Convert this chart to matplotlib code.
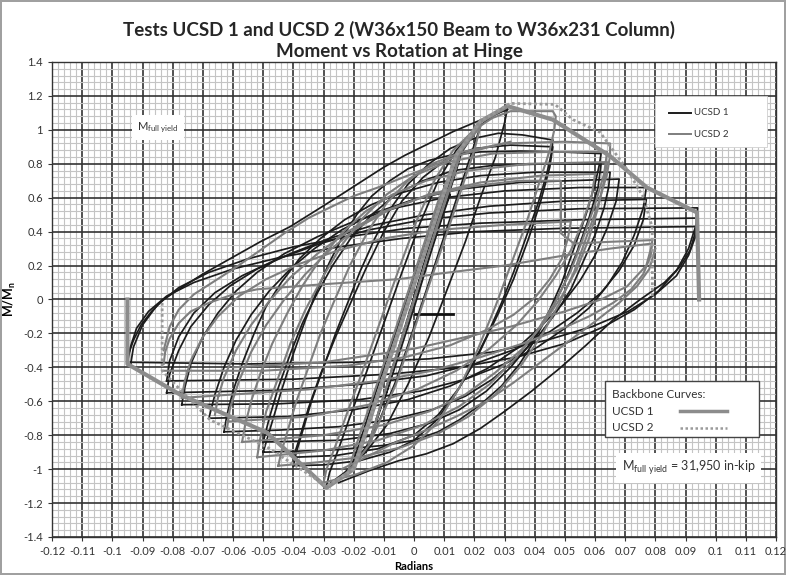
import matplotlib
matplotlib.use("Agg")
import matplotlib.pyplot as plt
from matplotlib.patches import Rectangle
from matplotlib.ticker import MultipleLocator

# ---------------- data: moment ratio (M/Mn) vs hinge rotation (rad) ----------------
# UCSD 1 hysteresis cycles
ucsd1_c01 = [(-0.010, -0.60), (-0.006, -0.38), (0.000, -0.05), (0.006, 0.30), (0.010, 0.52),
             (0.012, 0.62), (0.010, 0.55), (0.004, 0.25), (-0.002, -0.12), (-0.008, -0.48), (-0.010, -0.60)]
ucsd1_c02 = [(-0.016, -0.90), (-0.012, -0.68), (-0.004, -0.22), (0.004, 0.25), (0.010, 0.60),
             (0.014, 0.80), (0.016, 0.88), (0.014, 0.76), (0.008, 0.42), (0.000, -0.02),
             (-0.008, -0.48), (-0.014, -0.80), (-0.016, -0.90)]
ucsd1_c03 = [(-0.021, -1.00), (-0.018, -0.84), (-0.010, -0.40), (0.000, 0.12), (0.008, 0.55),
             (0.014, 0.82), (0.020, 0.98), (0.022, 1.02), (0.019, 0.86), (0.012, 0.48),
             (0.004, 0.05), (-0.006, -0.48), (-0.014, -0.82), (-0.021, -1.00)]
ucsd1_c04 = [(-0.029, -1.10), (-0.028, -1.02), (-0.025, -0.88), (-0.021, -0.68), (-0.016, -0.44),
             (-0.010, -0.14), (-0.004, 0.16), (0.002, 0.45), (0.008, 0.70), (0.014, 0.88),
             (0.020, 1.00), (0.026, 1.08), (0.031, 1.13), (0.030, 1.04), (0.027, 0.84),
             (0.022, 0.60), (0.017, 0.34), (0.011, 0.06), (0.005, -0.22), (-0.002, -0.50),
             (-0.009, -0.74), (-0.016, -0.90), (-0.023, -1.02), (-0.029, -1.10)]
ucsd1_c05 = [(-0.040, -0.98), (-0.039, -0.90), (-0.037, -0.78), (-0.034, -0.60), (-0.030, -0.40),
             (-0.026, -0.20), (-0.022, -0.02), (-0.018, 0.16), (-0.013, 0.36), (-0.008, 0.53),
             (-0.002, 0.68), (0.005, 0.80), (0.012, 0.89), (0.020, 0.95), (0.028, 0.98),
             (0.036, 0.97), (0.046, 0.94), (0.0455, 0.86), (0.044, 0.74), (0.041, 0.56),
             (0.037, 0.36), (0.033, 0.16), (0.029, -0.02), (0.024, -0.22), (0.019, -0.40),
             (0.013, -0.58), (0.007, -0.72), (0.000, -0.83), (-0.008, -0.90), (-0.018, -0.95),
             (-0.030, -0.975), (-0.040, -0.98)]
ucsd1_c05b = [(-0.040, -0.93), (-0.038, -0.82), (-0.035, -0.64), (-0.031, -0.44), (-0.026, -0.22),
              (-0.021, -0.02), (-0.016, 0.18), (-0.010, 0.40), (-0.004, 0.58), (0.003, 0.72),
              (0.011, 0.83), (0.020, 0.89), (0.032, 0.91), (0.046, 0.90), (0.045, 0.78),
              (0.042, 0.58), (0.038, 0.36), (0.033, 0.12), (0.028, -0.08), (0.022, -0.30),
              (0.015, -0.52), (0.008, -0.68), (0.000, -0.80), (-0.012, -0.88), (-0.026, -0.92),
              (-0.040, -0.93)]
ucsd1_c06 = [(-0.050, -0.90), (-0.049, -0.84), (-0.047, -0.72), (-0.044, -0.54), (-0.040, -0.32),
             (-0.036, -0.12), (-0.032, 0.06), (-0.028, 0.22), (-0.024, 0.36), (-0.019, 0.50),
             (-0.014, 0.61), (-0.008, 0.70), (-0.002, 0.77), (0.005, 0.82), (0.012, 0.85),
             (0.022, 0.87), (0.035, 0.875), (0.048, 0.87), (0.062, 0.86), (0.0615, 0.80),
             (0.060, 0.68), (0.057, 0.50), (0.053, 0.30), (0.049, 0.10), (0.045, -0.06),
             (0.040, -0.24), (0.035, -0.38), (0.029, -0.51), (0.022, -0.62), (0.015, -0.71),
             (0.008, -0.78), (0.000, -0.83), (-0.010, -0.86), (-0.025, -0.885), (-0.040, -0.895),
             (-0.050, -0.90)]
ucsd1_c06b = [(-0.050, -0.84), (-0.048, -0.70), (-0.045, -0.52), (-0.041, -0.32), (-0.037, -0.14),
              (-0.032, 0.04), (-0.027, 0.20), (-0.021, 0.36), (-0.014, 0.50), (-0.006, 0.62),
              (0.003, 0.70), (0.013, 0.76), (0.026, 0.79), (0.045, 0.80), (0.062, 0.80),
              (0.061, 0.66), (0.058, 0.48), (0.054, 0.28), (0.050, 0.10), (0.045, -0.08),
              (0.039, -0.25), (0.032, -0.40), (0.024, -0.54), (0.015, -0.65), (0.005, -0.73),
              (-0.008, -0.79), (-0.025, -0.83), (-0.050, -0.84)]
ucsd1_c07 = [(-0.063, -0.78), (-0.062, -0.68), (-0.060, -0.54), (-0.057, -0.38), (-0.053, -0.20),
             (-0.049, -0.04), (-0.044, 0.10), (-0.038, 0.24), (-0.031, 0.36), (-0.023, 0.47),
             (-0.014, 0.56), (-0.004, 0.63), (0.008, 0.69), (0.022, 0.73), (0.040, 0.75),
             (0.065, 0.75), (0.0645, 0.66), (0.063, 0.54), (0.060, 0.38), (0.056, 0.22),
             (0.052, 0.06), (0.047, -0.08), (0.041, -0.22), (0.034, -0.35), (0.026, -0.47),
             (0.017, -0.57), (0.006, -0.65), (-0.008, -0.71), (-0.025, -0.75), (-0.045, -0.77),
             (-0.063, -0.78)]
ucsd1_c07b = [(-0.068, -0.70), (-0.066, -0.56), (-0.063, -0.40), (-0.059, -0.24), (-0.054, -0.09),
              (-0.048, 0.05), (-0.041, 0.18), (-0.033, 0.30), (-0.024, 0.41), (-0.013, 0.51),
              (0.000, 0.59), (0.015, 0.65), (0.035, 0.69), (0.068, 0.71), (0.067, 0.58),
              (0.064, 0.42), (0.060, 0.26), (0.055, 0.11), (0.049, -0.03), (0.042, -0.16),
              (0.034, -0.29), (0.024, -0.41), (0.012, -0.51), (-0.002, -0.59), (-0.020, -0.65),
              (-0.042, -0.69), (-0.068, -0.70)]
ucsd1_c08 = [(-0.077, -0.62), (-0.076, -0.52), (-0.074, -0.38), (-0.070, -0.22), (-0.065, -0.08),
             (-0.059, 0.05), (-0.052, 0.16), (-0.043, 0.27), (-0.032, 0.37), (-0.020, 0.46),
             (-0.006, 0.54), (0.010, 0.60), (0.030, 0.64), (0.055, 0.66), (0.077, 0.66),
             (0.076, 0.54), (0.073, 0.38), (0.069, 0.22), (0.064, 0.08), (0.058, -0.05),
             (0.050, -0.17), (0.041, -0.28), (0.030, -0.38), (0.017, -0.47), (0.002, -0.54),
             (-0.018, -0.59), (-0.045, -0.615), (-0.077, -0.62)]
ucsd1_c08b = [(-0.082, -0.55), (-0.081, -0.44), (-0.078, -0.30), (-0.074, -0.16), (-0.068, -0.03),
              (-0.061, 0.08), (-0.052, 0.18), (-0.041, 0.27), (-0.028, 0.36), (-0.013, 0.44),
              (0.004, 0.50), (0.025, 0.55), (0.050, 0.58), (0.077, 0.59), (0.076, 0.47),
              (0.073, 0.32), (0.068, 0.17), (0.062, 0.04), (0.054, -0.08), (0.045, -0.19),
              (0.034, -0.29), (0.020, -0.38), (0.004, -0.45), (-0.018, -0.50), (-0.045, -0.535),
              (-0.082, -0.55)]
ucsd1_c09 = [(-0.082, -0.48), (-0.081, -0.36), (-0.078, -0.22), (-0.073, -0.08), (-0.066, 0.04),
             (-0.057, 0.14), (-0.045, 0.24), (-0.031, 0.33), (-0.015, 0.41), (0.003, 0.47),
             (0.025, 0.51), (0.055, 0.535), (0.094, 0.54), (0.0935, 0.44), (0.091, 0.30),
             (0.087, 0.17), (0.081, 0.05), (0.073, -0.06), (0.063, -0.16), (0.050, -0.26),
             (0.034, -0.34), (0.015, -0.40), (-0.008, -0.44), (-0.040, -0.47), (-0.082, -0.48)]
ucsd1_c10 = [(-0.094, -0.39), (-0.093, -0.28), (-0.090, -0.15), (-0.085, -0.03), (-0.078, 0.07),
             (-0.068, 0.16), (-0.055, 0.24), (-0.040, 0.31), (-0.022, 0.37), (-0.002, 0.42),
             (0.022, 0.45), (0.055, 0.47), (0.094, 0.48), (0.0935, 0.38), (0.091, 0.26),
             (0.087, 0.14), (0.080, 0.03), (0.071, -0.07), (0.059, -0.16), (0.044, -0.24),
             (0.026, -0.31), (0.005, -0.35), (-0.020, -0.37), (-0.055, -0.38), (-0.094, -0.37)]
ucsd1_c11 = [(-0.095, -0.37), (-0.094, -0.28), (-0.092, -0.17), (-0.088, -0.07), (-0.082, 0.02),
             (-0.073, 0.10), (-0.060, 0.18), (-0.044, 0.25), (-0.025, 0.31), (-0.004, 0.36),
             (0.020, 0.40), (0.050, 0.42), (0.094, 0.43)]
ucsd1_reload_up = [(-0.095, -0.34), (-0.093, -0.24), (-0.0905, -0.15), (-0.087, -0.07), (-0.083, 0.00),
                   (-0.078, 0.06), (-0.070, 0.15), (-0.061, 0.24), (-0.051, 0.34), (-0.041, 0.43),
                   (-0.032, 0.53), (-0.024, 0.62), (-0.017, 0.70), (-0.010, 0.78), (-0.003, 0.85),
                   (0.005, 0.92), (0.013, 0.99), (0.021, 1.05), (0.031, 1.12)]
ucsd1_unload_dn = [(0.094, 0.46), (0.093, 0.38), (0.0915, 0.29), (0.088, 0.19), (0.083, 0.10),
                   (0.075, 0.00), (0.066, -0.12), (0.057, -0.27), (0.048, -0.41), (0.039, -0.54),
                   (0.030, -0.66), (0.022, -0.76), (0.013, -0.85), (0.004, -0.91), (-0.005, -0.95),
                   (-0.015, -1.01), (-0.025, -1.08)]
ucsd1_first_step = [(0.0003, -0.088), (0.013, -0.088)]

# UCSD 2 hysteresis cycles
ucsd2_c01 = [(-0.015, -0.85), (-0.008, -0.45), (0.000, 0.00), (0.008, 0.46), (0.015, 0.84),
             (0.013, 0.72), (0.005, 0.28), (-0.003, -0.18), (-0.011, -0.62), (-0.015, -0.85)]
ucsd2_c02 = [(-0.022, -1.02), (-0.019, -0.85), (-0.010, -0.38), (0.000, 0.15), (0.008, 0.58),
             (0.015, 0.86), (0.022, 1.02), (0.020, 0.88), (0.012, 0.45), (0.003, -0.02),
             (-0.006, -0.50), (-0.015, -0.86), (-0.022, -1.02)]
ucsd2_c03 = [(-0.030, -1.08), (-0.029, -1.00), (-0.026, -0.86), (-0.022, -0.66), (-0.017, -0.42),
             (-0.011, -0.12), (-0.005, 0.18), (0.001, 0.47), (0.007, 0.71), (0.013, 0.88),
             (0.020, 1.00), (0.026, 1.07), (0.032, 1.11), (0.046, 1.11), (0.047, 1.08),
             (0.0465, 1.00), (0.045, 0.88), (0.041, 0.66), (0.037, 0.44), (0.032, 0.20),
             (0.027, -0.04), (0.021, -0.30), (0.015, -0.52), (0.008, -0.72), (0.000, -0.86),
             (-0.009, -0.96), (-0.019, -1.03), (-0.030, -1.08)]
ucsd2_c04 = [(-0.045, -0.98), (-0.044, -0.90), (-0.042, -0.78), (-0.039, -0.60), (-0.035, -0.40),
             (-0.031, -0.20), (-0.026, 0.01), (-0.021, 0.21), (-0.015, 0.41), (-0.009, 0.57),
             (-0.002, 0.70), (0.006, 0.80), (0.016, 0.87), (0.030, 0.92), (0.050, 0.93),
             (0.065, 0.92), (0.065, 0.85), (0.064, 0.74), (0.061, 0.56), (0.057, 0.36),
             (0.053, 0.16), (0.048, -0.03), (0.042, -0.22), (0.035, -0.40), (0.027, -0.56),
             (0.018, -0.69), (0.008, -0.79), (-0.004, -0.87), (-0.018, -0.93), (-0.032, -0.96),
             (-0.045, -0.98)]
ucsd2_c04b = [(-0.052, -0.93), (-0.051, -0.82), (-0.049, -0.66), (-0.045, -0.46), (-0.041, -0.26),
              (-0.036, -0.06), (-0.030, 0.14), (-0.024, 0.32), (-0.017, 0.48), (-0.009, 0.62),
              (0.000, 0.73), (0.011, 0.81), (0.026, 0.86), (0.045, 0.87), (0.064, 0.87),
              (0.063, 0.74), (0.060, 0.56), (0.056, 0.36), (0.052, 0.17), (0.047, -0.01),
              (0.041, -0.18), (0.034, -0.34), (0.025, -0.50), (0.015, -0.63), (0.003, -0.74),
              (-0.012, -0.83), (-0.030, -0.89), (-0.052, -0.93)]
ucsd2_c05 = [(-0.057, -0.84), (-0.056, -0.74), (-0.054, -0.60), (-0.051, -0.44), (-0.047, -0.26),
             (-0.042, -0.08), (-0.037, 0.08), (-0.031, 0.24), (-0.024, 0.39), (-0.016, 0.52),
             (-0.007, 0.62), (0.004, 0.70), (0.018, 0.76), (0.038, 0.80), (0.064, 0.81),
             (0.063, 0.70), (0.061, 0.54), (0.058, 0.36), (0.054, 0.18), (0.049, 0.02),
             (0.043, -0.14), (0.036, -0.29), (0.027, -0.43), (0.017, -0.56), (0.005, -0.66),
             (-0.010, -0.74), (-0.030, -0.80), (-0.057, -0.84)]
ucsd2_c05b = [(-0.062, -0.76), (-0.061, -0.64), (-0.058, -0.48), (-0.054, -0.31), (-0.049, -0.15),
              (-0.043, 0.00), (-0.036, 0.15), (-0.028, 0.29), (-0.019, 0.42), (-0.008, 0.53),
              (0.005, 0.62), (0.022, 0.69), (0.042, 0.73), (0.060, 0.74), (0.059, 0.62),
              (0.056, 0.46), (0.052, 0.29), (0.047, 0.14), (0.041, -0.01), (0.034, -0.15),
              (0.025, -0.29), (0.014, -0.42), (0.001, -0.53), (-0.015, -0.62), (-0.035, -0.69),
              (-0.062, -0.72)]
ucsd2_c06 = [(-0.066, -0.68), (-0.065, -0.58), (-0.063, -0.46), (-0.059, -0.30), (-0.054, -0.15),
             (-0.048, -0.01), (-0.041, 0.13), (-0.032, 0.27), (-0.022, 0.40), (-0.010, 0.52),
             (0.004, 0.61), (0.020, 0.67), (0.035, 0.70), (0.0487, 0.70), (0.0487, 0.39),
             (0.053, 0.33), (0.065, 0.34), (0.079, 0.35), (0.0785, 0.26), (0.076, 0.15),
             (0.072, 0.06), (0.066, -0.02), (0.058, -0.10), (0.048, -0.18), (0.036, -0.26),
             (0.022, -0.34), (0.006, -0.42), (-0.012, -0.48), (-0.035, -0.53), (-0.060, -0.56),
             (-0.077, -0.58)]
ucsd2_c07 = [(-0.077, -0.58), (-0.076, -0.48), (-0.074, -0.36), (-0.070, -0.22), (-0.065, -0.10),
             (-0.058, 0.02), (-0.049, 0.12), (-0.038, 0.21), (-0.025, 0.29), (-0.010, 0.36),
             (0.008, 0.41), (0.030, 0.44), (0.052, 0.46), (0.051, 0.36), (0.049, 0.24),
             (0.045, 0.12), (0.040, 0.01), (0.033, -0.09), (0.024, -0.18), (0.012, -0.27),
             (-0.003, -0.34), (-0.022, -0.39), (-0.050, -0.42), (-0.083, -0.42)]
ucsd2_c08 = [(-0.083, -0.38), (-0.0825, -0.31), (-0.081, -0.23), (-0.078, -0.14), (-0.074, -0.07),
             (-0.068, -0.02), (-0.060, 0.03), (-0.052, 0.06), (-0.030, 0.09), (-0.005, 0.12),
             (0.0096, 0.155), (0.030, 0.20), (0.050, 0.26), (0.065, 0.30), (0.079, 0.33),
             (0.077, 0.20), (0.0706, 0.077), (0.062, 0.00), (0.050, -0.07), (0.032, -0.16),
             (0.015, -0.23), (0.000, -0.29), (-0.030, -0.37), (-0.060, -0.40)]
ucsd2_reload_up = [(-0.083, -0.30), (-0.081, -0.16), (-0.078, -0.06), (-0.073, 0.03), (-0.066, 0.11),
                   (-0.059, 0.19), (-0.051, 0.29), (-0.043, 0.39), (-0.035, 0.48), (-0.027, 0.55),
                   (-0.020, 0.61), (-0.012, 0.66), (-0.005, 0.71), (0.005, 0.78), (0.015, 0.85),
                   (0.025, 0.90), (0.032, 0.93)]
ucsd2_unload_dn = [(0.080, 0.30), (0.078, 0.18), (0.074, 0.08), (0.068, -0.02), (0.060, -0.13),
                   (0.051, -0.25), (0.042, -0.37), (0.033, -0.49), (0.024, -0.60), (0.014, -0.69),
                   (0.004, -0.77), (-0.007, -0.85), (-0.016, -0.93), (-0.024, -1.00)]

# Backbone curves
bb1_rot = [-0.095, -0.095, -0.0776, -0.0487, -0.029, -0.020, 0.014, 0.022, 0.031,
           0.046, 0.065, 0.0772, 0.0938, 0.0945]
bb1_m = [0.0, -0.38, -0.56, -0.785, -1.11, -1.00, 0.85, 1.05, 1.14,
         1.06, 0.845, 0.66, 0.513, 0.0]
bb2_rot = [-0.0835, -0.0835, -0.0776, -0.0676, -0.0487, -0.029, -0.020, 0.014, 0.022,
           0.0318, 0.0467, 0.0527, 0.0617, 0.0706, 0.0759, 0.0789, 0.079, 0.079]
bb2_m = [-0.02, -0.42, -0.53, -0.71, -0.87, -1.10, -1.00, 0.85, 1.05,
         1.156, 1.15, 1.06, 0.985, 0.767, 0.608, 0.43, 0.354, 0.02]

x_ticks = [-0.12, -0.11, -0.1, -0.09, -0.08, -0.07, -0.06, -0.05, -0.04, -0.03, -0.02, -0.01,
           0, 0.01, 0.02, 0.03, 0.04, 0.05, 0.06, 0.07, 0.08, 0.09, 0.1, 0.11, 0.12]
y_ticks = [-1.4, -1.2, -1, -0.8, -0.6, -0.4, -0.2, 0, 0.2, 0.4, 0.6, 0.8, 1, 1.2, 1.4]

ucsd1_cycles = [ucsd1_c01, ucsd1_c02, ucsd1_c03, ucsd1_c04, ucsd1_c05, ucsd1_c05b, ucsd1_c06,
                ucsd1_c06b, ucsd1_c07, ucsd1_c07b, ucsd1_c08, ucsd1_c08b, ucsd1_c09, ucsd1_c10,
                ucsd1_c11, ucsd1_reload_up, ucsd1_unload_dn]
ucsd2_cycles = [ucsd2_c01, ucsd2_c02, ucsd2_c03, ucsd2_c04, ucsd2_c04b, ucsd2_c05, ucsd2_c05b,
                ucsd2_c06, ucsd2_c07, ucsd2_c08, ucsd2_reload_up, ucsd2_unload_dn]

# ---------------- figure ----------------
plt.rcParams["font.family"] = ["Lato", "DejaVu Sans"]

fig = plt.figure(figsize=(7.86, 5.75), dpi=100)
fig.patch.set_facecolor("white")
fig.patch.set_edgecolor("#a0a0a0")
fig.patch.set_linewidth(1.5)

ax = fig.add_axes([0.0662, 0.0661, 0.9211, 0.8261])
ax.set_xlim(-0.12, 0.12)
ax.set_ylim(-1.4, 1.4)

ax.xaxis.set_major_locator(MultipleLocator(0.01))
ax.yaxis.set_major_locator(MultipleLocator(0.2))
ax.xaxis.set_minor_locator(MultipleLocator(0.002))
ax.yaxis.set_minor_locator(MultipleLocator(0.04))
ax.grid(which="minor", color="#c4c4c4", linewidth=0.8, zorder=0)
ax.grid(which="major", color="#333333", linewidth=1.2, zorder=0.5)
ax.set_axisbelow(True)

ax.set_xticks(x_ticks)
ax.set_xticklabels([f"{t:g}" for t in x_ticks])
ax.set_yticks(y_ticks)
ax.set_yticklabels([f"{t:g}" for t in y_ticks])
ax.tick_params(axis="both", which="major", labelsize=8, colors="#333333", length=3, width=0.8)
ax.tick_params(axis="both", which="minor", length=0)
for sp in ax.spines.values():
    sp.set_color("#333333")
    sp.set_linewidth(1.0)

for cyc in ucsd1_cycles:
    xs, ys = zip(*cyc)
    ax.plot(xs, ys, color="#1c1c1c", linewidth=1.25, zorder=2)
xs, ys = zip(*ucsd1_first_step)
ax.plot(xs, ys, color="#111111", linewidth=2.0, zorder=2)
for cyc in ucsd2_cycles:
    xs, ys = zip(*cyc)
    ax.plot(xs, ys, color="#7e7e7e", linewidth=1.5, zorder=3)

ax.plot(bb1_rot, bb1_m, color="#8c8c8c", linewidth=3.0, zorder=4)
ax.plot(bb2_rot, bb2_m, color="#9a9a9a", linewidth=2.0, linestyle=(0, (1, 1)), zorder=4)

ax.set_xlabel("Radians", fontsize=8, fontweight="bold", labelpad=3)
ax.set_ylabel("M/M$_\\mathregular{n}$", fontsize=9, fontweight="bold", labelpad=4)

fig.text(0.508, 0.948, "Tests UCSD 1 and UCSD 2 (W36x150 Beam to W36x231 Column)",
         ha="center", va="center", fontsize=13.5, fontweight="bold", color="#262626")
fig.text(0.508, 0.910, "Moment vs Rotation at Hinge",
         ha="center", va="center", fontsize=13.5, fontweight="bold", color="#262626")

# top-right series legend
ax.add_patch(Rectangle((0.833, 0.820), 0.155, 0.108, transform=ax.transAxes,
                       facecolor="white", edgecolor="#d0d0d0", linewidth=0.6, zorder=6))
ax.plot([0.852, 0.882], [0.893, 0.893], transform=ax.transAxes, color="#1c1c1c", lw=1.4, zorder=7)
ax.plot([0.852, 0.882], [0.848, 0.848], transform=ax.transAxes, color="#7e7e7e", lw=1.4, zorder=7)
ax.text(0.887, 0.893, "UCSD 1", transform=ax.transAxes, fontsize=7, va="center", color="#333333", zorder=7)
ax.text(0.887, 0.848, "UCSD 2", transform=ax.transAxes, fontsize=7, va="center", color="#333333", zorder=7)

# yield moment label in the upper left
ax.text(0.118, 0.862, "M$_\\mathregular{full\\ yield}$", transform=ax.transAxes, fontsize=8,
        va="center", color="#333333", zorder=7,
        bbox=dict(boxstyle="square,pad=0.5", facecolor="white", edgecolor="none"))

# backbone legend
ax.add_patch(Rectangle((0.764, 0.210), 0.213, 0.118, transform=ax.transAxes,
                       facecolor="white", edgecolor="#444444", linewidth=1.0, zorder=6))
ax.text(0.774, 0.300, "Backbone Curves:", transform=ax.transAxes, fontsize=8.5,
        va="center", color="#333333", zorder=7)
ax.text(0.774, 0.265, "UCSD 1", transform=ax.transAxes, fontsize=8.5,
        va="center", color="#333333", zorder=7)
ax.text(0.774, 0.230, "UCSD 2", transform=ax.transAxes, fontsize=8.5,
        va="center", color="#333333", zorder=7)
ax.plot([0.868, 0.932], [0.265, 0.265], transform=ax.transAxes, color="#8c8c8c", lw=2.5, zorder=7)
ax.plot([0.868, 0.932], [0.230, 0.230], transform=ax.transAxes, color="#9a9a9a", lw=1.8,
        linestyle=(0, (1, 1)), zorder=7)

ax.text(0.787, 0.145, "M$_\\mathregular{full\\ yield}$ = 31,950 in-kip", transform=ax.transAxes,
        fontsize=9, va="center", color="#333333", zorder=7,
        bbox=dict(boxstyle="square,pad=0.45", facecolor="white", edgecolor="none"))

fig.savefig("out.png", dpi=100, facecolor=fig.get_facecolor(), edgecolor=fig.get_edgecolor())
